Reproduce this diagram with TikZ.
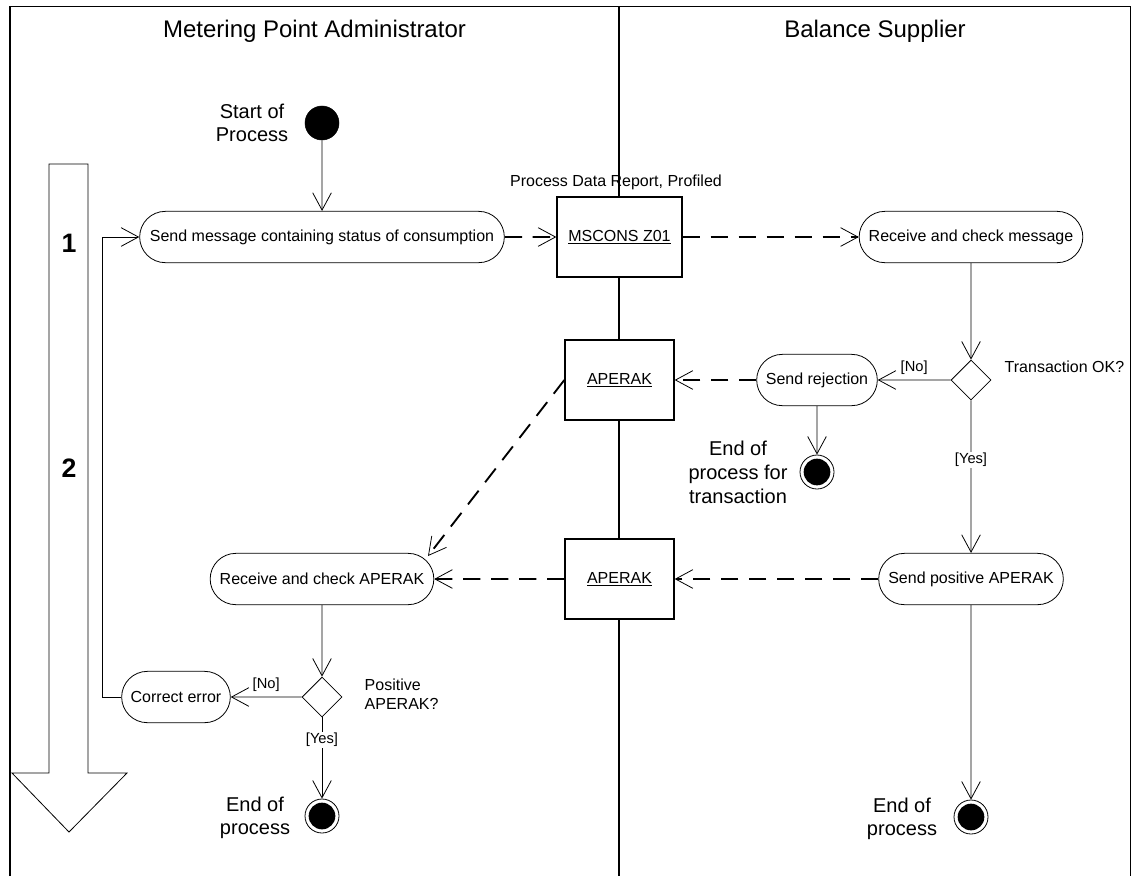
\documentclass[tikz,border=0pt]{standalone}
\usepackage{fontspec}
\setmainfont{Liberation Sans}
\usetikzlibrary{arrows.meta,shapes.misc,shapes.geometric,calc}
\begin{document}
\begin{tikzpicture}[x=0.75pt,y=-0.75pt,
  act/.style={rounded rectangle, draw, line width=0.6pt, fill=white, minimum height=38.5pt, inner xsep=2pt, font=\fontsize{12}{14}\selectfont},
  obj/.style={rectangle, draw, line width=1pt, fill=white, minimum height=60pt, font=\fontsize{12}{14}\selectfont},
  dec/.style={diamond, draw, line width=0.6pt, fill=white, minimum width=30pt, minimum height=30pt, inner sep=0pt},
  startnode/.style={circle, fill=black, draw=black, minimum size=25.5pt, inner sep=0pt},
  endnode/.style={circle, draw=black, line width=0.6pt, fill=white, minimum size=25.5pt, inner sep=0pt,
    path picture={\fill[black] (path picture bounding box.center) circle (10pt);}},
  lbl/.style={font=\fontsize{15}{17.5}\selectfont, align=center},
  small/.style={font=\fontsize{12}{14}\selectfont},
  guard/.style={font=\fontsize{11}{13}\selectfont, inner sep=1pt},
  flow/.style={line width=0.6pt, -{Straight Barb[length=13pt,width=14pt,line width=0.6pt]}},
  msg/.style={line width=1.4pt, dash pattern=on 13pt off 8pt, -{Straight Barb[length=13pt,width=14pt,line width=0.6pt]}},
  frame/.style={line width=1.1pt},
  title/.style={font=\fontsize{18}{20}\selectfont, anchor=base},
  phase/.style={font=\bfseries\fontsize{20}{22}\selectfont},
]
\useasboundingbox (0,0) rectangle (1138,876);
% frame and lanes
\draw[frame] (10,876) -- (10,6.5) -- (1130.5,6.5) -- (1130.5,876);
\draw[frame] (619,6.5) -- (619,876);
\node[title] (t1) at (314.5,37) {Metering Point Administrator};
\node[title] (t2) at (875,37) {Balance Supplier};
% big phase arrow
\draw[line width=0.6pt] (49,164) -- (88,164) -- (88,773) -- (127,773) -- (69,832) -- (12,773) -- (49,773) -- cycle;
\node[phase] (p1) at (69,243) {1};
\node[phase] (p2) at (69,468) {2};
% nodes
\node[startnode] (start) at (322,123) {};
\node[lbl] (startlbl) at (252,123) {Start of\\Process};
\node[act, minimum width=277.5pt] (send) at (322,237) {Send message containing status of consumption};
\node[obj, minimum width=93.75pt] (mscons) at (619.5,237) {\underline{MSCONS Z01}};
\node[small, anchor=base] (pdr) at (616,186) {Process Data Report, Profiled};
\node[act, minimum width=171.75pt] (rcvmsg) at (971,237) {Receive and check message};
\node[dec] (d1) at (971,380) {};
\node[small, anchor=west] (tok) at (1000,367) {Transaction OK?};
\node[act, minimum width=94.5pt] (rej) at (817,380) {Send rejection};
\node[obj, minimum width=81.75pt] (ap1) at (619.5,380) {\underline{APERAK}};
\node[endnode] (endtr) at (817,472) {};
\node[lbl, font=\fontsize{15}{18}\selectfont] (endtrlbl) at (738,472) {End of\\process for\\transaction};
\node[act, minimum width=142.5pt] (pos) at (971,579) {Send positive APERAK};
\node[obj, minimum width=81.75pt] (ap2) at (619.5,579) {\underline{APERAK}};
\node[act, minimum width=171.75pt] (rcva) at (322,579) {Receive and check APERAK};
\node[dec] (d2) at (322,697) {};
\node[anchor=west, align=left, font=\fontsize{12}{14}\selectfont] (posq) at (360,694) {Positive\\APERAK?};
\node[act, minimum width=85.5pt] (corr) at (176,697) {Correct error};
\node[endnode] (endl) at (322,816) {};
\node[lbl] (endllbl) at (255,818) {End of\\process};
\node[endnode] (endr) at (971,817) {};
\node[lbl] (endrlbl) at (902,819) {End of\\process};
% connectors
\coordinate (fb1) at (102.5,697);
\coordinate (fb2) at (102.5,237);
\coordinate (rcvain) at (428,556);
\draw[flow] (start) -- (send);
\draw[flow] (corr.west) -- (fb1) -- (fb2) -- (send.west);
\draw[msg] (send) -- (mscons);
\draw[msg] (mscons) -- (rcvmsg);
\draw[flow] (rcvmsg) -- (d1);
\draw[flow] (d1) -- (rej) node[guard, pos=0.5, above=3pt] {[No]};
\draw[msg] (rej) -- (ap1);
\draw[flow] (rej) -- (endtr);
\draw[flow] (d1) -- (pos) node[guard, fill=white, pos=0.39] {[Yes]};
\draw[msg] (pos) -- (ap2);
\draw[flow] (pos) -- (endr);
\draw[msg] (ap1.west) -- (rcvain);
\draw[msg] (ap2) -- (rcva);
\draw[flow] (rcva) -- (d2);
\draw[flow] (d2) -- (corr) node[guard, pos=0.5, above=3pt] {[No]};
\draw[flow] (d2) -- (endl) node[guard, fill=white, pos=0.28] {[Yes]};
\end{tikzpicture}
\end{document}
